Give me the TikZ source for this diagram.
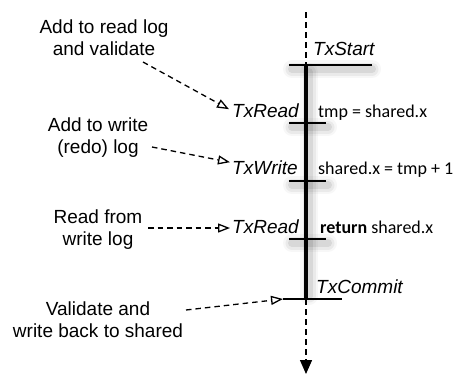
\documentclass[tikz,border=0pt]{standalone}
\usepackage{fontspec}
\setmainfont{Liberation Sans}
\newfontfamily\codefont{Carlito}
\usetikzlibrary{arrows.meta}

\begin{document}
\begin{tikzpicture}[x=1bp,y=-1bp,
  note/.style={font=\fontsize{19bp}{22bp}\selectfont, align=center, anchor=base, inner sep=0pt},
  opname/.style={font=\fontsize{19bp}{22bp}\selectfont\itshape, anchor=base west, inner sep=0pt},
  codetxt/.style={font=\fontsize{18bp}{22bp}\selectfont\codefont, anchor=base west, inner sep=0pt},
  hint/.style={line width=1.3bp, dash pattern=on 5.5bp off 4bp,
    -{Triangle[open, length=12bp, width=9bp, line width=1.3bp]}},
  flow/.style={line width=1.4bp, dash pattern=on 6bp off 4bp},
  spine/.style={line width=3.2bp},
  tick/.style={line width=2bp},
  halo/.style={line cap=round, draw=black}
]
\useasboundingbox (0,0) rectangle (461,374);

% soft shadow behind the transaction body
\foreach \w/\o in {18/0.03, 13/0.05, 8/0.08}{
  \draw[halo, line width=\w bp, draw opacity=\o] (309,72) -- (309,296);
  \draw[halo, line width=\w bp, draw opacity=\o] (292,127) -- (328,127);
  \draw[halo, line width=\w bp, draw opacity=\o] (292,185) -- (328,185);
  \draw[halo, line width=\w bp, draw opacity=\o] (292,243) -- (328,243);
  \draw[halo, line width=\w bp, draw opacity=\o] (292,69) -- (372,69);
}

% timeline geometry
\coordinate (top)    at (306,12);
\coordinate (startL) at (289,65);
\coordinate (startR) at (372,65);
\coordinate (startM) at (306,65);
\coordinate (commitL) at (283,299);
\coordinate (commitR) at (342,299);
\coordinate (commitM) at (306,299);
\coordinate (bottom) at (306,374);

\coordinate (r1L) at (289,123); \coordinate (r1R) at (326,123);
\coordinate (w1L) at (289,181); \coordinate (w1R) at (326,181);
\coordinate (r2L) at (289,239); \coordinate (r2R) at (326,239);

\draw[flow] (top) -- (startM);
\draw[tick] (startL) -- (startR);
\draw[spine] (startM) -- (commitM);
\draw[tick] (r1L) -- (r1R);
\draw[tick] (w1L) -- (w1R);
\draw[tick] (r2L) -- (r2R);
\draw[line width=1.3bp] (commitL) -- (commitR);
\draw[flow, -{Triangle[length=14bp, width=12bp]}] (commitM) -- (bottom);

% operation names and code
\node[opname] (txstart)  at (313,55)  {TxStart};
\node[opname] (txread1)  at (232,117) {TxRead};
\node[opname] (txwrite)  at (232,174) {TxWrite};
\node[opname] (txread2)  at (232,233) {TxRead};
\node[opname] (txcommit) at (316,293) {TxCommit};

\node[codetxt] (c1) at (318,117) {tmp = shared.x};
\node[codetxt] (c2) at (318,174) {shared.x = tmp + 1};
\node[codetxt] (c3) at (320,233) {\textbf{return} shared.x};

% explanatory notes
\node[note] (n1) at (104,55)  {Add to read log\\and validate};
\node[note] (n2) at (98,153)  {Add to write\\(redo) log};
\node[note] (n3) at (98,245)  {Read from\\write log};
\node[note] (n4) at (98,337)  {Validate and\\write back to shared};

\coordinate (n1s) at (143,62);
\coordinate (n2s) at (152,147);
\coordinate (n3s) at (148,228);
\coordinate (n4s) at (186,310);

\draw[hint] (n1s) -- ([xshift=-3bp, yshift=1bp]txread1.west);
\draw[hint] (n2s) -- ([xshift=-2bp, yshift=5bp]txwrite.west);
\draw[hint] (n3s) -- ([xshift=-2bp]txread2.west |- n3s);
\draw[hint] (n4s) -- (commitL);
\end{tikzpicture}
\end{document}
